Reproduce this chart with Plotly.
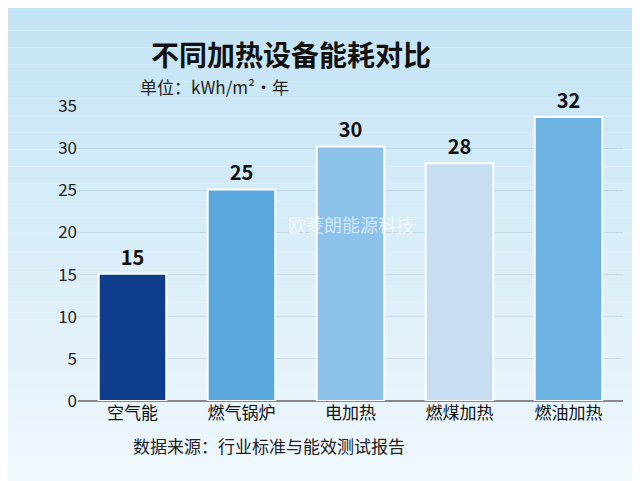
import plotly.graph_objects as go

categories = ["空气能", "燃气锅炉", "电加热", "燃煤加热", "燃油加热"]
bar_heights = [15.1, 25.1, 30.2, 28.2, 33.7]
value_labels = ["15", "25", "30", "28", "32"]
bar_colors = ["#0e3d8c", "#5ba8df", "#8cc2ea", "#c6ddf2", "#6cb3e4"]
y_ticks = [0, 5, 10, 15, 20, 25, 30, 35]

fig = go.Figure(go.Bar(
    x=categories, y=bar_heights, text=["<b>" + v + "</b>" for v in value_labels],
    textposition="outside",
    textfont=dict(size=20, color="#111", family="Noto Sans CJK SC"),
    marker=dict(color=bar_colors, line=dict(color="white", width=2)),
    width=0.62, cliponaxis=False))

n = 40
shapes = []
for i in range(n):
    t = i / (n - 1)
    r = int(188 + (252 - 188) * t)
    g = int(225 + (253 - 225) * t)
    b = int(244 + (255 - 244) * t)
    shapes.append(dict(type="rect", xref="paper", yref="paper", layer="below",
                       x0=-0.5, x1=1.5, y0=1.6 - (i + 1) * 2.3 / n, y1=1.6 - i * 2.3 / n,
                       fillcolor=f"rgb({r},{g},{b})", line=dict(width=0)))

fig.update_layout(
    width=640, height=481, shapes=shapes,
    margin=dict(l=70, r=25, t=98, b=88),
    paper_bgcolor="#f4fafd", plot_bgcolor="rgba(0,0,0,0)",
    font=dict(family="Noto Sans CJK SC", color="#222"),
    showlegend=False, bargap=0.38,
    yaxis=dict(range=[0, 35], tickvals=y_ticks, tickfont=dict(size=17, color="#222"),
               gridcolor="rgba(160,180,200,0.35)", zeroline=True, zerolinecolor="#888",
               ticks="", ticklen=0),
    xaxis=dict(tickfont=dict(size=17, color="#111"), showline=False),
    annotations=[
        dict(text="<b>不同加热设备能耗对比</b>", x=0.39, y=1.25, xref="paper", yref="paper",
             showarrow=False, font=dict(size=28, color="#111")),
        dict(text="单位：kWh/m²·年", x=0.11, y=1.115, xref="paper", yref="paper", xanchor="left",
             showarrow=False, font=dict(size=17, color="#222")),
        dict(text="数据来源：行业标准与能效测试报告", x=0.35, y=-0.2, xref="paper", yref="paper",
             showarrow=False, font=dict(size=17, color="#222")),
        dict(text="欧菱朗能源科技", x=0.5, y=21, xref="paper", yref="y",
             showarrow=False, font=dict(size=18, color="rgba(255,255,255,0.6)")),
    ])
fig.write_html("out.html")
